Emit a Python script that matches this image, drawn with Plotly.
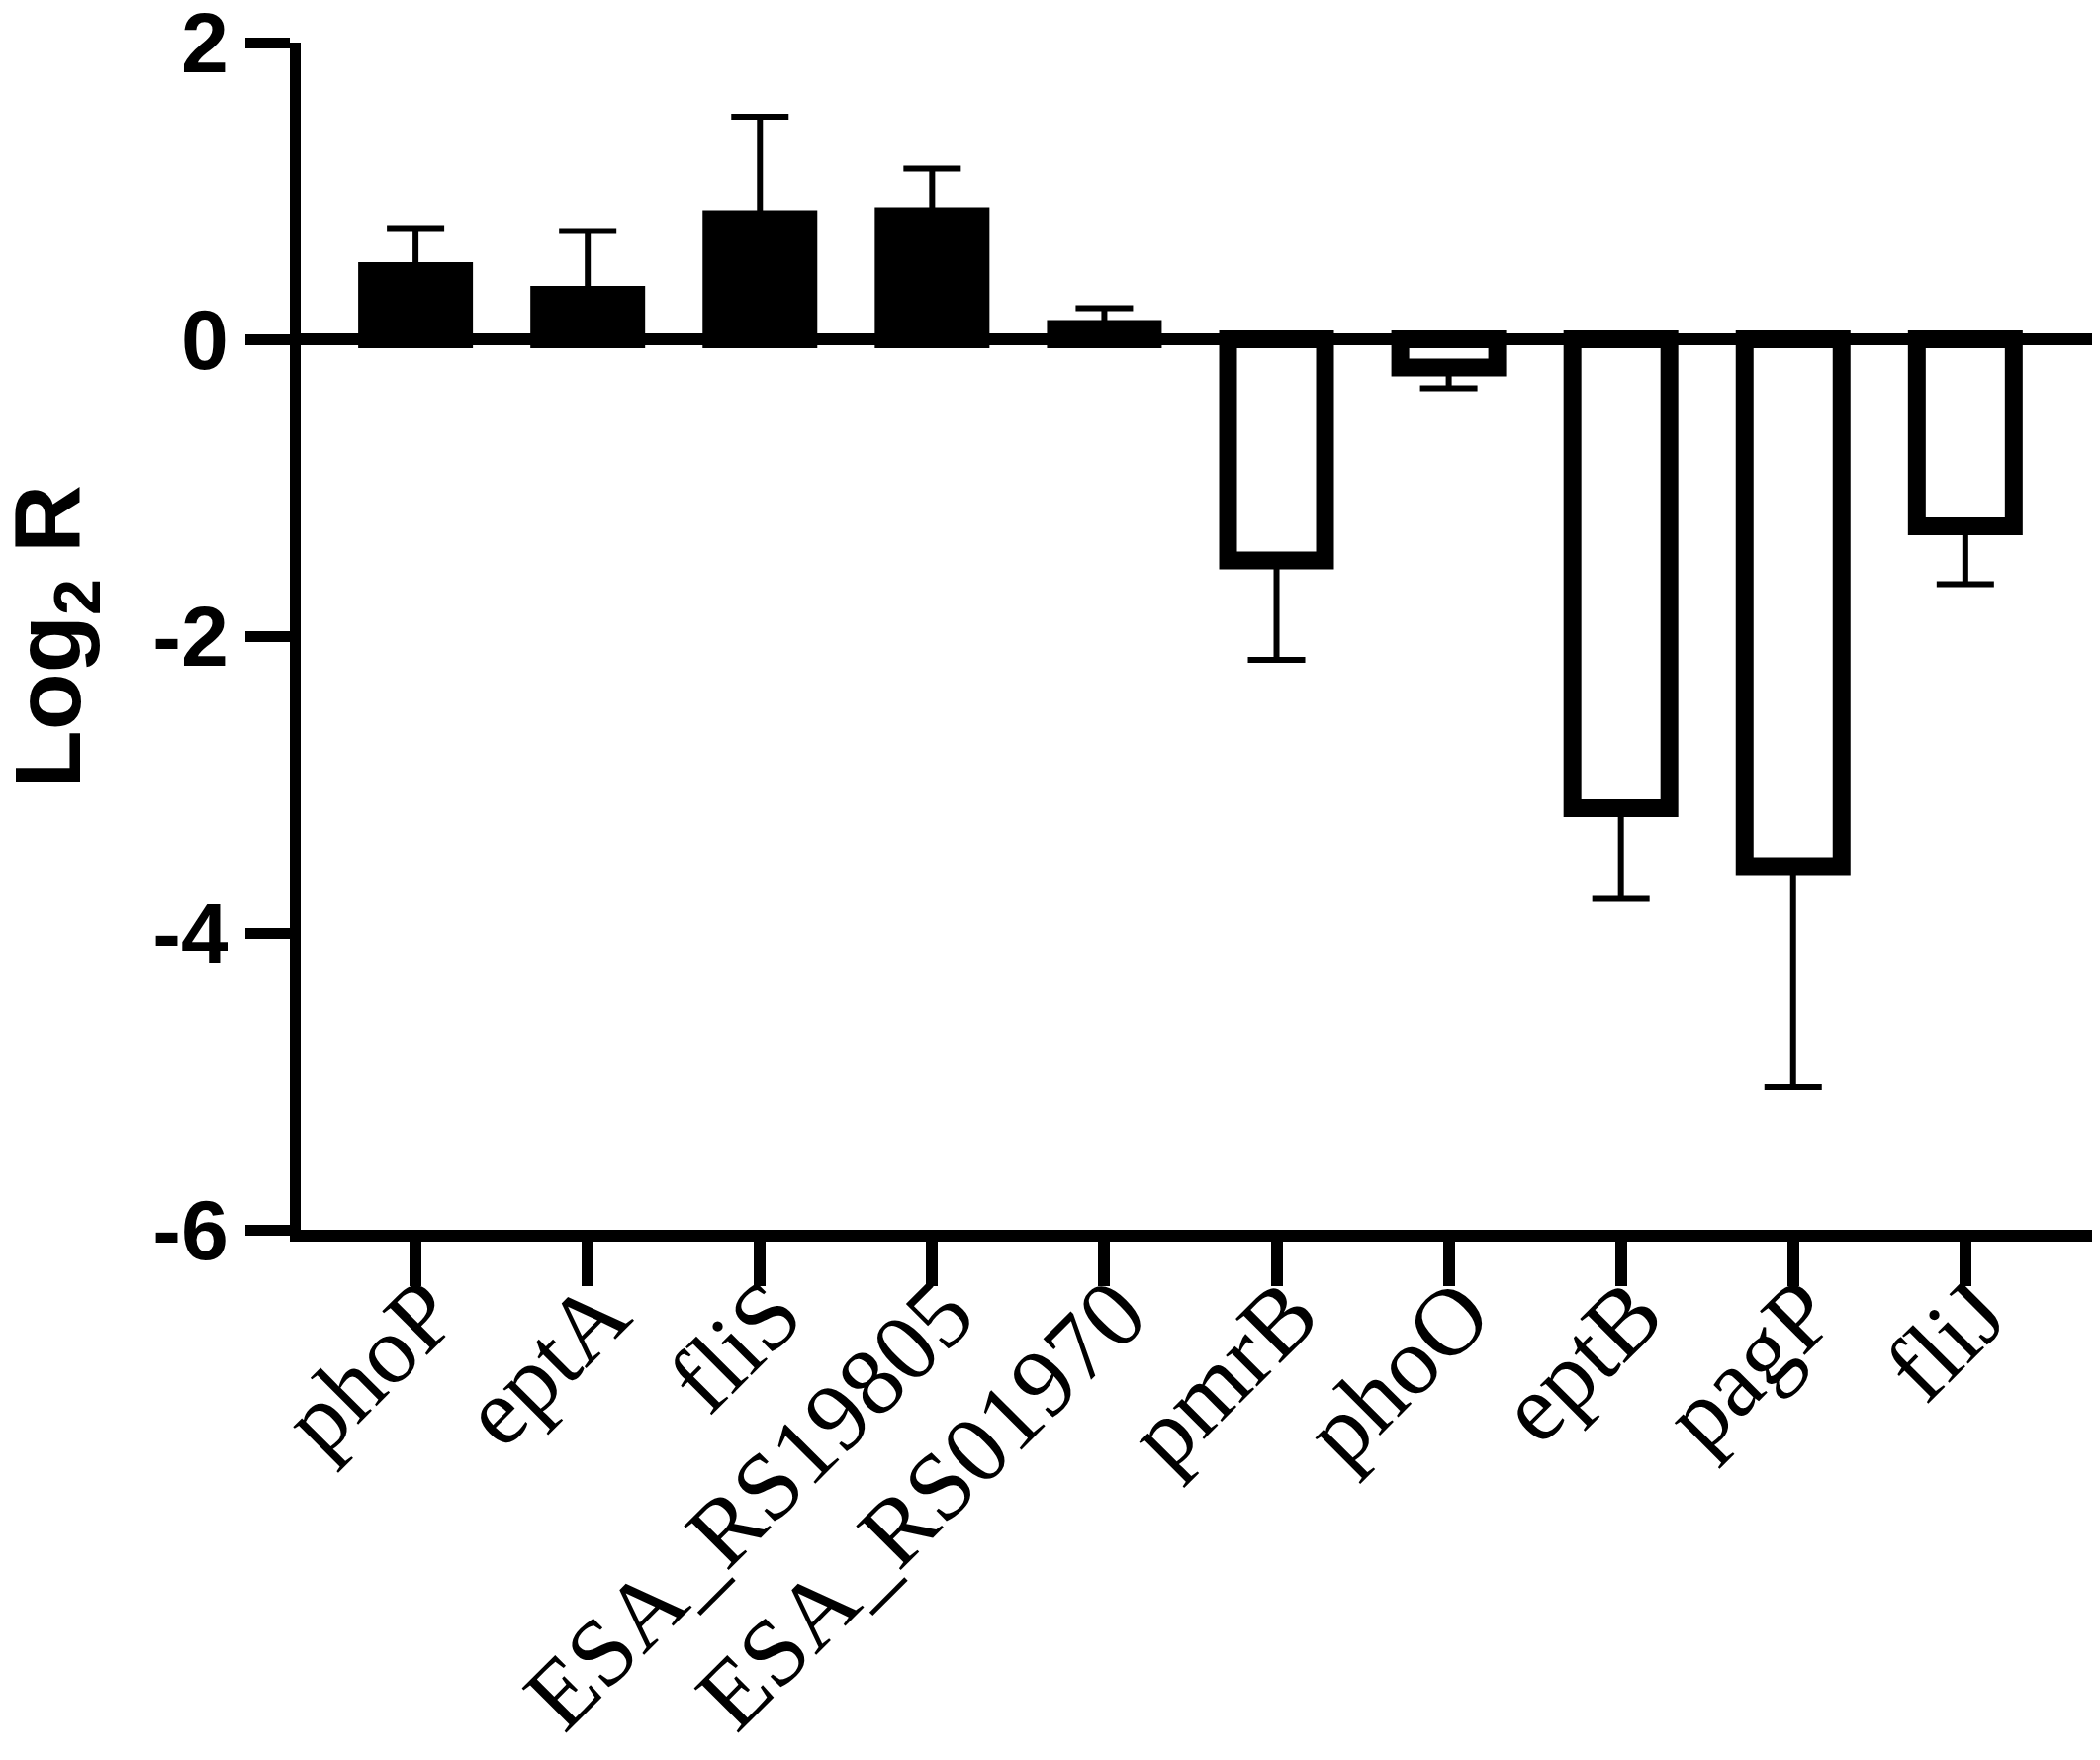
import plotly.graph_objects as go

# gene names on the x axis
genes = ['phoP', 'eptA', 'fliS', 'ESA_RS19805', 'ESA_RS01970',
         'pmrB', 'phoO', 'eptB', 'pagP', 'fliJ']
# mean Log2 R for each gene
log2r = [0.46, 0.30, 0.81, 0.83, 0.07, -1.49, -0.19, -3.16, -3.55, -1.26]
# error (SD), drawn only away from zero
sd = [0.29, 0.43, 0.69, 0.32, 0.14, 0.67, 0.14, 0.61, 1.49, 0.39]

y_ticks = [-6, -4, -2, 0, 2]
y_ticktext = ['-6', '-4', '-2', '0', '2']

# positive bars filled black, negative bars open
colors = ['black' if v > 0 else 'white' for v in log2r]
err_up = [e if v > 0 else 0 for v, e in zip(log2r, sd)]
err_down = [e if v < 0 else 0 for v, e in zip(log2r, sd)]

fig = go.Figure()
fig.add_trace(go.Bar(
    x=genes, y=log2r, width=0.563,
    marker=dict(color=colors, line=dict(color='black', width=18)),
    error_y=dict(type='data', symmetric=False, array=err_up, arrayminus=err_down,
                 color='black', thickness=6, width=29),
    showlegend=False
))

# page body has an 8px margin, so the figure is sized a bit smaller
fig.update_layout(
    width=2115, height=1771,
    margin=dict(l=296, r=3, t=35, b=536),
    plot_bgcolor='white', paper_bgcolor='white',
    xaxis=dict(
        range=[-0.667, 9.765], automargin=False,
        showline=True, linewidth=12, linecolor='black',
        ticks='outside', ticklen=45, tickwidth=12, tickcolor='black',
        tickangle=-45, ticklabelstandoff=-68, ticklabelshift=13,
        tickfont=dict(family='Liberation Serif', size=97, color='black'),
        showgrid=False, zeroline=False
    ),
    yaxis=dict(
        range=[-6, 2], automargin=False,
        tickvals=y_ticks, ticktext=y_ticktext, ticklabeloverflow='allow',
        showline=True, linewidth=11, linecolor='black',
        ticks='outside', ticklen=45, tickwidth=11, tickcolor='black',
        tickfont=dict(family='Liberation Sans', size=86, color='black', weight='bold'),
        showgrid=False,
        zeroline=True, zerolinewidth=12, zerolinecolor='black'
    ),
    annotations=[dict(
        text='Log<sub>2</sub> R', textangle=-90,
        x=-0.137, y=0.5, xref='paper', yref='paper',
        xanchor='center', yanchor='middle', showarrow=False,
        font=dict(family='Liberation Sans', size=95, color='black', weight='bold')
    )]
)

fig.write_html("out.html")
